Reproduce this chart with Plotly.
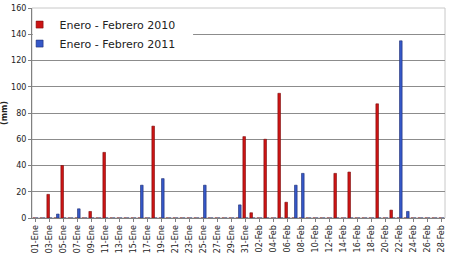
import plotly.graph_objects as go

months = [("Ene", 31), ("Feb", 28)]
categories = [f"{d:02d}-{m}" for m, n in months for d in range(1, n + 1)]
tick_labels = categories[::2]

series_2010_name = "Enero - Febrero 2010"
series_2011_name = "Enero - Febrero 2011"

# 01-Ene ... 31-Ene
ene_2010 = [0, 0, 18, 0, 40, 0, 0, 0, 5, 0, 50, 0, 0, 0, 0, 0, 0, 70, 0, 0,
            0, 0, 0, 0, 0, 0, 0, 0, 0, 0, 62]
ene_2011 = [0, 0, 0, 3, 0, 0, 7, 0, 0, 0, 0, 0, 0, 0, 0, 25, 0, 0, 30, 0,
            0, 0, 0, 0, 25, 0, 0, 0, 0, 10, 0]
# 01-Feb ... 28-Feb
feb_2010 = [4, 0, 60, 0, 95, 12, 0, 0, 0, 0, 0, 0, 34, 0, 35, 0, 0, 0, 87, 0,
            6, 0, 0, 0, 0, 0, 0, 0]
feb_2011 = [0, 0, 0, 0, 0, 0, 25, 34, 0, 0, 0, 0, 0, 0, 0, 0, 0, 0, 0, 0,
            0, 135, 5, 0, 0, 0, 0, 0]

values_2010 = ene_2010 + feb_2010
values_2011 = ene_2011 + feb_2011

y_ticks = [0, 20, 40, 60, 80, 100, 120, 140, 160]

red_fill, red_line = "#cc1414", "#7a0a0a"
blue_fill, blue_line = "#3558c8", "#1c2c70"

fig = go.Figure()
fig.add_trace(go.Bar(x=categories, y=values_2010, name=series_2010_name, showlegend=False,
                     legendgroup="a",
                     marker=dict(color=red_fill, line=dict(color=red_line, width=0.6))))
fig.add_trace(go.Bar(x=categories, y=values_2011, name=series_2011_name, showlegend=False,
                     legendgroup="b",
                     marker=dict(color=blue_fill, line=dict(color=blue_line, width=0.6))))
# legend entries with small square keys
fig.add_trace(go.Scatter(x=[None], y=[None], mode="markers", name=series_2010_name, legendgroup="a",
                         marker=dict(symbol="square", size=7, color=red_fill,
                                     line=dict(color=red_line, width=0.6))))
fig.add_trace(go.Scatter(x=[None], y=[None], mode="markers", name=series_2011_name, legendgroup="b",
                         marker=dict(symbol="square", size=7, color=blue_fill,
                                     line=dict(color=blue_line, width=0.6))))

fig.update_layout(
    width=450, height=263,
    margin=dict(l=30, r=4, t=8, b=45),
    paper_bgcolor="white", plot_bgcolor="white",
    barmode="group", bargap=0.25, bargroupgap=0,
    font=dict(family="DejaVu Sans", color="#222222"),
    showlegend=True,
    legend=dict(x=-0.03, y=0.99, xanchor="left", yanchor="top",
                bgcolor="rgba(255,255,255,0)", font=dict(size=11, color="#222222"),
                itemwidth=30, tracegroupgap=0),
    shapes=[dict(type="rect", xref="paper", yref="y", x0=0.002, x1=0.39, y0=130, y1=150,
                 fillcolor="white", line=dict(width=0), layer="above"),
            dict(type="rect", xref="paper", yref="paper", x0=0, x1=1, y0=0, y1=1,
                 line=dict(color="#c8c8c8", width=1), layer="below")],
)
fig.update_xaxes(type="category", categoryorder="array", categoryarray=categories,
                 tickmode="array", tickvals=tick_labels, ticktext=tick_labels,
                 tickangle=-90, tickfont=dict(size=8, color="#222222"),
                 showline=True, linecolor="#808080", linewidth=1,
                 ticks="outside", ticklen=3, tickcolor="#808080", showgrid=False)
fig.update_yaxes(range=[0, 160], tickvals=y_ticks, tickfont=dict(size=8, color="#222222"),
                 showline=True, linecolor="#808080", linewidth=1,
                 ticks="outside", ticklen=3, tickcolor="#808080",
                 showgrid=True, gridcolor="#8c8c8c", gridwidth=1, zeroline=False,
                 title=dict(text="<b>(mm)</b>", font=dict(size=8, color="#222222"), standoff=2))

fig.write_html("out.html")
